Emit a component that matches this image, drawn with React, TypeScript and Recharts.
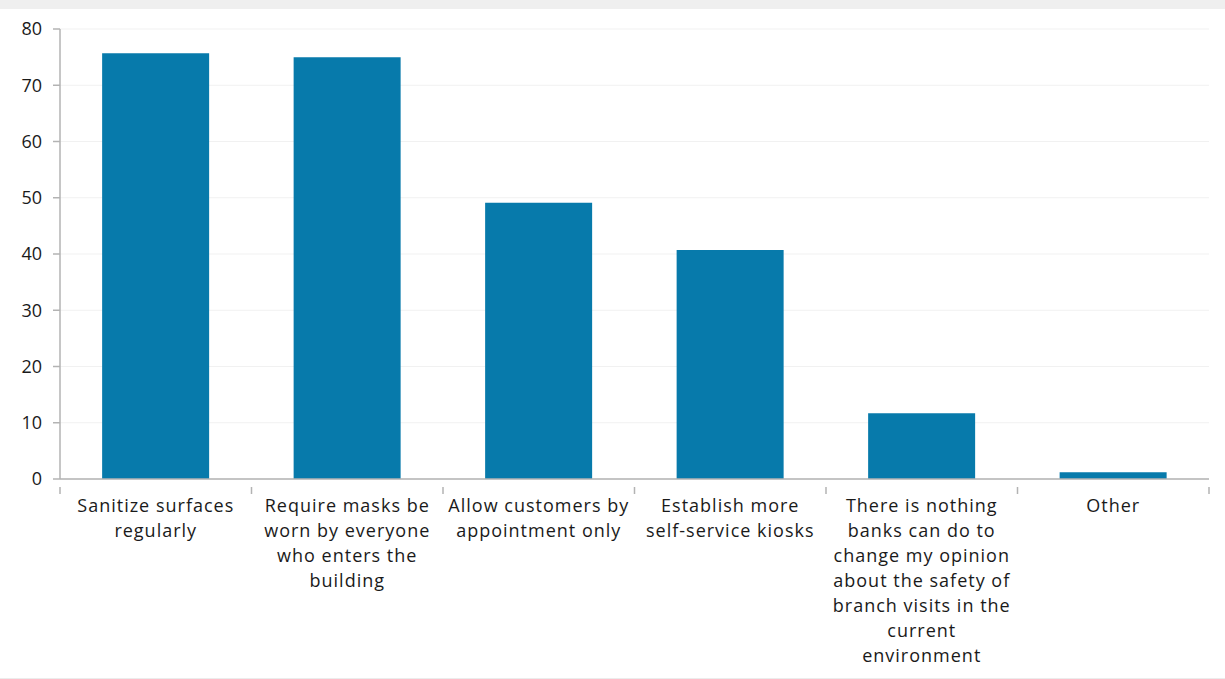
import React from "react";
import { BarChart, Bar, XAxis, YAxis, CartesianGrid } from "recharts";

// survey: what banks could do to make branch visits feel safe (%)
const CATEGORIES = [
  "Sanitize surfaces regularly",
  "Require masks be worn by everyone who enters the building",
  "Allow customers by appointment only",
  "Establish more self-service kiosks",
  "There is nothing banks can do to change my opinion about the safety of branch visits in the current environment",
  "Other",
];
const VALUES = [75.7, 75.0, 49.1, 40.7, 11.7, 1.2];
const LABEL_LINES = [
  ["Sanitize surfaces", "regularly"],
  ["Require masks be", "worn by everyone", "who enters the", "building"],
  ["Allow customers by", "appointment only"],
  ["Establish more", "self-service kiosks"],
  ["There is nothing", "banks can do to", "change my opinion", "about the safety of", "branch visits in the", "current", "environment"],
  ["Other"],
];
const Y_TICKS = [0, 10, 20, 30, 40, 50, 60, 70, 80];

const BAR = "#077aab";
const INK = "#1a1a1a";
const AXIS = "#b3b3b3";
const GRID = "#f1f1f1";
const FONT = "'Open Sans', sans-serif";

const data = CATEGORIES.map((name, i) => ({ name, value: VALUES[i] }));

function CategoryTick(props: any) {
  const { x, y, payload } = props;
  const lines = LABEL_LINES[payload.index] ?? [payload.value];
  const half = payload.offset ?? 95.75;
  const last = payload.index === CATEGORIES.length - 1;
  return (
    <g transform={`translate(${x},${y})`}>
      <line x1={-half} x2={-half} y1={0} y2={7} stroke={AXIS} strokeWidth={1.5} />
      {last && <line x1={half} x2={half} y1={0} y2={7} stroke={AXIS} strokeWidth={1.5} />}
      <text textAnchor="middle" fill={INK} fontSize={18} fontFamily={FONT} letterSpacing={1}>
        {lines.map((l, i) => (
          <tspan key={i} x={0} dy={25}>
            {l}
          </tspan>
        ))}
      </text>
    </g>
  );
}

export default function App() {
  return (
    <div style={{ width: 1225, height: 679, background: "#efefef", position: "relative" }}>
      <style>{`body{margin:0}`}</style>
      <div
        style={{
          position: "absolute",
          top: 9,
          left: 0,
          width: 1225,
          height: 669,
          background: "#fff",
          borderBottom: "1px solid #ececec",
        }}
      >
        <BarChart
          width={1225}
          height={669}
          data={data}
          margin={{ top: 20, right: 16, bottom: 0, left: 0 }}
          barCategoryGap="22%"
        >
          <CartesianGrid stroke={GRID} vertical={false} />
          <XAxis
            dataKey="name"
            height={199}
            interval={0}
            axisLine={{ stroke: AXIS, strokeWidth: 1.5 }}
            tickLine={false}
            tick={<CategoryTick />}
          />
          <YAxis
            width={60}
            domain={[0, 80]}
            ticks={Y_TICKS}
            interval={0}
            axisLine={{ stroke: AXIS, strokeWidth: 1.5 }}
            tickLine={{ stroke: AXIS, strokeWidth: 1.5 }}
            tickSize={7}
            tickMargin={11}
            tick={{ fill: INK, fontSize: 18, fontFamily: FONT }}
          />
          <Bar dataKey="value" fill={BAR} isAnimationActive={false} />
        </BarChart>
      </div>
    </div>
  );
}
